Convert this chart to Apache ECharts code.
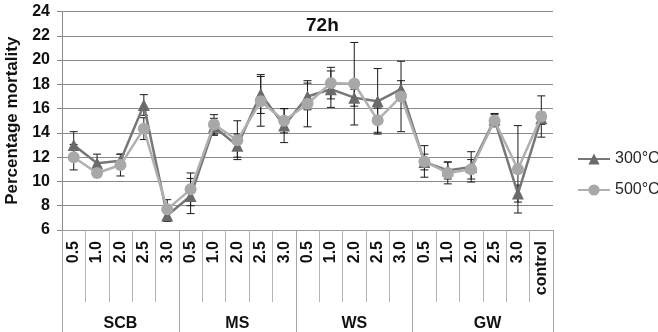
<!DOCTYPE html>
<html>
<head>
<meta charset="utf-8">
<script src="https://cdn.jsdelivr.net/npm/echarts@6/dist/echarts.min.js"></script>
<style>
html,body{margin:0;padding:0;background:#fff;}
#c{width:658px;height:332px;}
</style>
</head>
<body>
<div id="c"></div>
<script>
var categories = ['0.5','1.0','2.0','2.5','3.0','0.5','1.0','2.0','2.5','3.0','0.5','1.0','2.0','2.5','3.0','0.5','1.0','2.0','2.5','3.0','control'];
var groupNames = ['SCB','MS','WS','GW'];
var groupCenters = [2.5, 7.5, 12.5, 18.2];
var groupBounds = [0, 5, 10, 15, 21];
var yTicks = [6, 8, 10, 12, 14, 16, 18, 20, 22, 24];

var s300 = [13.0, 11.5, 11.7, 16.3, 7.2, 8.8, 14.5, 12.95, 17.2, 14.6, 17.0, 17.6, 16.9, 16.6, 17.6, 11.6, 10.9, 11.2, 15.1, 9.0, 15.2];
var e300 = [1.1, 0.75, 0.55, 0.85, 0.5, 1.45, 0.7, 0.95, 1.6, 1.4, 1.1, 1.5, 0.7, 2.7, 0.7, 0.65, 0.7, 1.25, 0.5, 0.7, 0.5];
var s500 = [12.0, 10.7, 11.35, 14.35, 7.7, 9.35, 14.7, 13.4, 16.6, 15.0, 16.4, 18.1, 18.05, 15.05, 17.0, 11.65, 10.7, 11.0, 15.0, 11.0, 15.35];
var e500 = [1.05, 0.3, 0.9, 0.9, 0.8, 1.35, 0.8, 1.6, 2.05, 1.0, 1.9, 1.3, 3.4, 1.0, 2.9, 1.3, 0.9, 0.8, 0.5, 3.6, 1.7];

function errData(vals, errs){
  return vals.map(function(v,i){ return [i, v - errs[i], v + errs[i]]; });
}
function renderErr(params, api){
  var i = api.value(0);
  var lo = api.coord([i, api.value(1)]);
  var hi = api.coord([i, api.value(2)]);
  var w = 4;
  var st = {stroke:'#1a1a1a', lineWidth:1};
  return {type:'group', children:[
    {type:'line', shape:{x1:lo[0], y1:lo[1], x2:hi[0], y2:hi[1]}, style:st},
    {type:'line', shape:{x1:lo[0]-w, y1:lo[1], x2:lo[0]+w, y2:lo[1]}, style:st},
    {type:'line', shape:{x1:hi[0]-w, y1:hi[1], x2:hi[0]+w, y2:hi[1]}, style:st}
  ]};
}

var FONT = '"Liberation Sans", Arial, sans-serif';
var chart = echarts.init(document.getElementById('c'));
chart.setOption({
  animation:false,
  backgroundColor:'#fff',
  title:{text:'72h', left:301, top:11, textStyle:{fontFamily:FONT, fontSize:19, fontWeight:'bold', color:'#111'}},
  legend:{
    orient:'vertical', left:572, top:146, itemWidth:32, itemHeight:14, itemGap:15,
    data:['300°C','500°C'],
    textStyle:{fontFamily:FONT, fontSize:16, color:'#262626'}
  },
  grid:{left:62, right:105, top:11.5, bottom:102, containLabel:false, outerBoundsMode:'none'},
  xAxis:[{
    type:'category', data:categories, position:'bottom',
    axisLine:{show:true, lineStyle:{color:'#9a9a9a', width:1}},
    axisTick:{show:true, interval:0, length:72, lineStyle:{color:'#b4b4b4', width:1}},
    axisLabel:{interval:0, rotate:90, margin:11, fontFamily:FONT, fontSize:16, fontWeight:'bold', color:'#111'},
    splitLine:{show:false}
  },{
    type:'value', min:0, max:21, position:'bottom',
    axisLine:{show:false},
    splitLine:{show:false},
    axisTick:{show:true, customValues:groupBounds, length:102, lineStyle:{color:'#a6a6a6', width:1}},
    axisLabel:{show:true, customValues:groupCenters, margin:86, fontFamily:FONT, fontSize:16, fontWeight:'bold', color:'#111',
      formatter:function(v){ var k = groupCenters.indexOf(v); return k >= 0 ? groupNames[k] : ''; }}
  }],
  yAxis:{
    type:'value', min:yTicks[0], max:yTicks[yTicks.length-1], interval:2,
    name:'Percentage mortality', nameLocation:'middle', nameGap:37,
    nameTextStyle:{fontFamily:FONT, fontSize:17, fontWeight:'bold', color:'#111'},
    axisLine:{show:true, lineStyle:{color:'#8a8a8a'}},
    axisTick:{show:true, length:5, lineStyle:{color:'#8a8a8a'}},
    axisLabel:{margin:12, fontFamily:FONT, fontSize:16, fontWeight:'bold', color:'#111'},
    splitLine:{show:true, lineStyle:{color:'#8a8a8a', width:1}}
  },
  series:[
    {type:'custom', name:'err300', xAxisIndex:0, yAxisIndex:0, z:1, renderItem:renderErr, data:errData(s300,e300), silent:true},
    {type:'custom', name:'err500', xAxisIndex:0, yAxisIndex:0, z:1, renderItem:renderErr, data:errData(s500,e500), silent:true},
    {type:'line', name:'300°C', xAxisIndex:0, z:3, data:s300, symbol:'triangle', symbolSize:12,
      itemStyle:{color:'#6a6a6a'}, lineStyle:{color:'#777777', width:2.5}},
    {type:'line', name:'500°C', xAxisIndex:0, z:4, data:s500, symbol:'circle', symbolSize:12,
      itemStyle:{color:'#a8a8a8'}, lineStyle:{color:'#b0b0b0', width:2.5}}
  ]
});
</script>
</body>
</html>
